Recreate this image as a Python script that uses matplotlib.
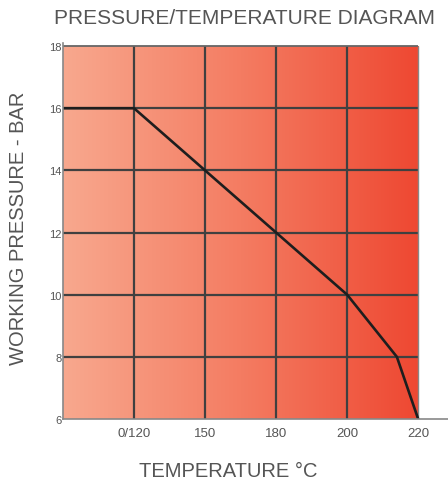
import matplotlib.pyplot as plt
import numpy as np
from matplotlib.colors import LinearSegmentedColormap

# categorical temperature positions (0 = origin, unlabeled)
x_labels = ["", "0/120", "150", "180", "200", "220"]
y_ticks = [6, 8, 10, 12, 14, 16, 18]

# pressure/temperature curve (x in tick positions)
curve_x = [0, 1, 2, 3, 4, 4.7, 5]
curve_y = [16, 16, 14, 12, 10, 8, 6]

plt.rcParams["font.family"] = ["Liberation Sans", "DejaVu Sans"]
text_color = "#555555"

fig = plt.figure(figsize=(4.48, 4.85), dpi=100)
ax = fig.add_axes([63 / 448, 65 / 485, 385 / 448, 376 / 485])

n = len(x_labels) - 1
cmap = LinearSegmentedColormap.from_list("heat", ["#f8a88e", "#f47c62", "#ee4832"])
grad = np.linspace(0, 1, 256).reshape(1, -1)
ax.imshow(grad, cmap=cmap, aspect="auto", extent=(0, n, y_ticks[0], y_ticks[-1]),
          zorder=0)

grid_c = "#404040"
ax.hlines(y_ticks[1:-1], 0, n, color=grid_c, lw=1.6, zorder=1)
ax.vlines(range(1, n), y_ticks[0], y_ticks[-1], color=grid_c, lw=1.6, zorder=1)
ax.hlines(y_ticks[-1], 0, n, color="#666666", lw=1.3, zorder=1)
ax.vlines(n, y_ticks[0], y_ticks[-1], color="#888888", lw=1.0, zorder=1)

ax.plot(curve_x, curve_y, color="#1e1e1e", lw=1.9, zorder=2)

ax.set_xlim(0, n + 0.42)
ax.set_ylim(y_ticks[0], y_ticks[-1] + 0.1)
for s in ["top", "right"]:
    ax.spines[s].set_visible(False)
for s in ["left", "bottom"]:
    ax.spines[s].set_color("#888888")
    ax.spines[s].set_linewidth(1.2)

ax.set_xticks(range(len(x_labels)))
ax.set_xticklabels(x_labels, fontsize=9.5, color=text_color)
ax.set_yticks(y_ticks)
ax.set_yticklabels([str(v) for v in y_ticks], fontsize=8, color=text_color)
ax.tick_params(axis="x", length=0, pad=6)
ax.tick_params(axis="y", length=0, pad=1)

fig.text(228 / 448, 1 - 472 / 485, "TEMPERATURE °C", fontsize=14.5,
         color=text_color, ha="center", va="center")
fig.text(19 / 448, 1 - 228 / 485, "WORKING PRESSURE - BAR", fontsize=14.5,
         color=text_color, ha="center", va="center", rotation=90)
fig.text(244 / 448, 1 - 19 / 485, "PRESSURE/TEMPERATURE DIAGRAM", fontsize=15,
         color=text_color, ha="center", va="center")

fig.savefig("out.png", dpi=100)
